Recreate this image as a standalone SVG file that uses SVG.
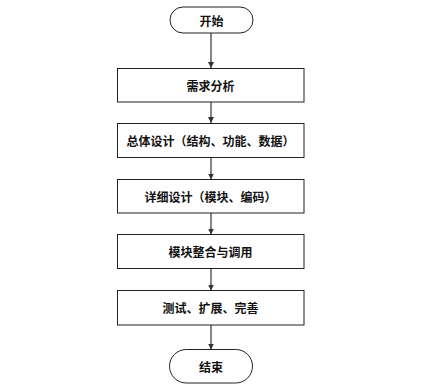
<svg xmlns="http://www.w3.org/2000/svg" width="448" height="389" viewBox="0 0 448 389">
<defs>
<style>
.box{fill:#fff;stroke:#222;stroke-width:1}
.t{font-family:"Noto Sans CJK SC",sans-serif;font-size:12px;font-weight:bold;fill:#111;text-anchor:middle;dominant-baseline:central}
.c{stroke:#444;stroke-width:1.3;fill:none;marker-end:url(#ah)}
</style>
<marker id="ah" viewBox="0 0 8 8" refX="8" refY="4" markerWidth="6" markerHeight="6" markerUnits="userSpaceOnUse" orient="auto">
<path d="M0,0 L8,4 L0,8 z" fill="#333"/>
</marker>
</defs>
<rect width="448" height="389" fill="#fff"/>
<g id="connectors">
<line class="c" x1="211" y1="33" x2="211" y2="68"/>
<line class="c" x1="211" y1="102" x2="211" y2="123"/>
<line class="c" x1="211" y1="157.5" x2="211" y2="179.5"/>
<line class="c" x1="211" y1="213" x2="211" y2="234.5"/>
<line class="c" x1="211" y1="268.5" x2="211" y2="290.5"/>
<line class="c" x1="211" y1="325" x2="211" y2="349.5"/>
</g>
<g id="start"><rect class="box" x="170" y="7" width="83" height="26" rx="13"/><text class="t" x="211.5" y="20">开始</text></g>
<g id="n1"><rect class="box" x="117.5" y="68.5" width="186.5" height="33.5"/><text class="t" x="210.5" y="85">需求分析</text></g>
<g id="n2"><rect class="box" x="117.5" y="123.5" width="186.5" height="34"/><text class="t" x="210.5" y="140.5">总体设计（结构、功能、数据）</text></g>
<g id="n3"><rect class="box" x="117.5" y="179.5" width="186.5" height="33.5"/><text class="t" x="210.5" y="196">详细设计（模块、编码）</text></g>
<g id="n4"><rect class="box" x="117.5" y="234.5" width="186.5" height="34"/><text class="t" x="210.5" y="251.5">模块整合与调用</text></g>
<g id="n5"><rect class="box" x="117.5" y="290.5" width="186.5" height="34.5"/><text class="t" x="210.5" y="307.5">测试、扩展、完善</text></g>
<g id="end"><rect class="box" x="169.5" y="349.5" width="83" height="33.5" rx="16.75"/><text class="t" x="211" y="366">结束</text></g>
</svg>
